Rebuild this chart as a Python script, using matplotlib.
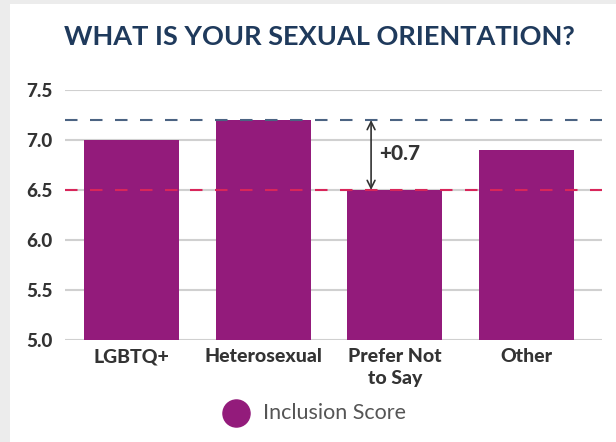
import matplotlib.pyplot as plt
from matplotlib.patches import Rectangle

categories = ["LGBTQ+", "Heterosexual", "Prefer Not\nto Say", "Other"]
scores = [7.0, 7.2, 6.5, 6.9]
top_ref = 7.2
low_ref = 6.5
yticks = [5.0, 5.5, 6.0, 6.5, 7.0, 7.5]

bar_color = "#931b7b"

fig = plt.figure(figsize=(6.16, 4.42), dpi=100)
fig.patch.set_facecolor("#ececec")
# white card behind everything
fig.patches.append(Rectangle((10 / 616, 0), 1, 1 - 4 / 442, transform=fig.transFigure,
                             facecolor="white", edgecolor="none", zorder=-5))

ax = fig.add_axes([65 / 616, 1 - 340 / 442, (602 - 65) / 616, 250 / 442])
ax.set_zorder(2)
ax.set_facecolor("none")
x = range(len(categories))
ax.bar(x, scores, width=0.72, color=bar_color, zorder=2)

ax.set_ylim(5.0, 7.5)
ax.set_xlim(-0.505, 3.574)
ax.set_yticks(yticks)
ax.set_yticklabels([f"{v:.1f}" for v in yticks],
                   fontdict=dict(family="Lato", weight="black", size=13.5), color="#333333")
ax.yaxis.grid(True, color="#d0d0d0", linewidth=1.5, zorder=0)
ax.set_axisbelow(True)
ax.set_xticks(list(x))
ax.set_xticklabels(categories, fontdict=dict(family="Lato", weight="black", size=14),
                   color="#333333", linespacing=1.35)
for s in ax.spines.values():
    s.set_visible(False)
ax.tick_params(length=0)
ax.tick_params(axis="y", pad=9)
ax.tick_params(axis="x", pad=6)

ax.axhline(top_ref, color="#4b6382", linestyle=(0, (6, 6)), linewidth=1.5, zorder=3)
ax.axhline(low_ref, color="#d8265a", linestyle=(0, (6, 6)), linewidth=1.5, zorder=3)

ax.annotate("", xy=(1.82, low_ref), xytext=(1.82, top_ref),
            arrowprops=dict(arrowstyle="<->", color="#333333", lw=1.2,
                            shrinkA=0, shrinkB=0, mutation_scale=14), zorder=4)
ax.text(1.88, (top_ref + low_ref) / 2 + 0.02, f"+{top_ref - low_ref:.1f}",
        fontfamily="Lato", fontweight="black", fontsize=15, color="#333333",
        va="center", ha="left")

fig.text(319 / 616, 1 - 37 / 442, "WHAT IS YOUR SEXUAL ORIENTATION?", ha="center", va="center",
         fontfamily="Lato", fontweight="bold", fontsize=19.5, color="#1f3a5c")

fig.add_artist(plt.Line2D([236 / 616], [1 - 413 / 442], marker="o", markersize=19.5,
                          color=bar_color, transform=fig.transFigure))
fig.text(263 / 616, 1 - 413 / 442, "Inclusion Score", ha="left", va="center",
         fontfamily="Lato", fontweight="normal", fontsize=15.5, color="#555555")

fig.savefig("out.png", dpi=100)
